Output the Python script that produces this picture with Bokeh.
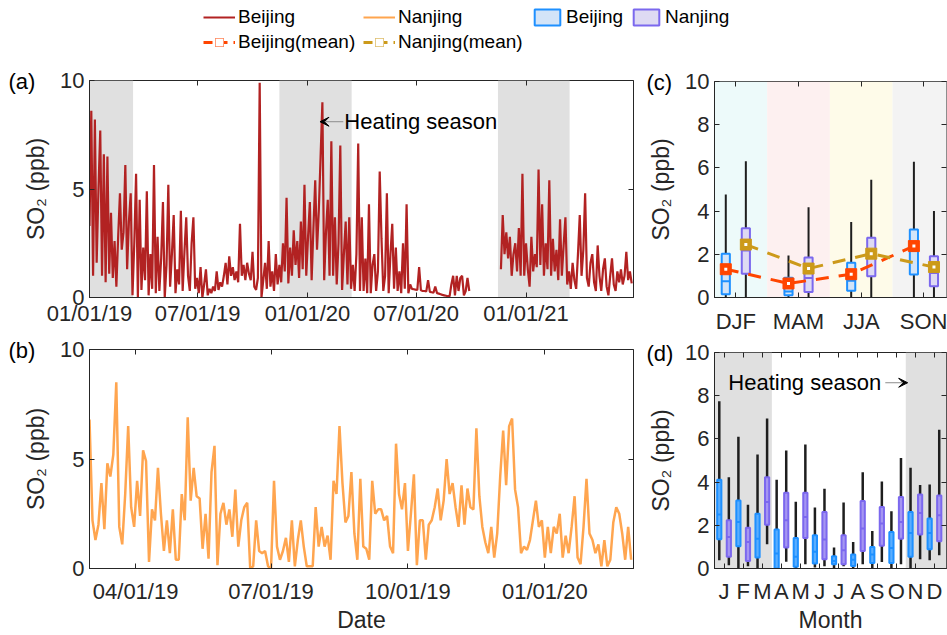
import numpy as np
import pandas as pd
from bokeh.plotting import figure
from bokeh.models import (ColumnDataSource, FixedTicker, DatetimeTickFormatter, Range1d,
                          LinearAxis, DatetimeAxis, Label, Arrow, VeeHead, Legend,
                          LegendItem, BoxAnnotation)
from bokeh.layouts import column, row
from bokeh.embed import file_html
from bokeh.resources import INLINE

FONT = "Liberation Sans"
TXT = "#262626"

# ------------------------------------------------------------------ data
beijing_start_1 = "2019-01-01"
beijing_start_2 = "2020-11-20"
beijing_step_days = 3
beijing_so2_1 = [
    3.3, 8.6, 1.0, 8.2, 1.6, 5.0, 7.7, 1.0, 6.6, 0.7,
    6.5, 1.1, 3.9, 0.9, 2.6, 0.5, 2.8, 4.8, 2.2, 3.0,
    6.1, 1.3, 3.5, 4.8, 0.1, 2.5, 5.7, 0.0, 4.5, 0.35,
    2.3, 0.8, 4.9, 0.1, 2.0, 0.4, 6.1, 0.2, 2.8, 0.3,
    1.8, 4.4, 0.0, 1.5, 5.2, 0.5, 2.0, 3.8, 0.2, 1.3,
    0.6, 4.0, 0.3, 2.1, 3.7, 1.0, 0.3, 2.5, 3.7, 0.4,
    0.9, 0.2, 1.4, 0.0, 0.6, 1.3, 0.1, 0.4, 0.2, 0.5,
    0.3, 1.2, 0.35, 0.7, 0.5, 1.0, 1.6, 0.6, 1.9, 1.0,
    1.4, 0.8, 1.2, 0.7, 3.4, 1.0, 1.5, 0.8, 1.6, 1.1,
    0.8, 2.1, 0.5, 0.35, 0.9, 9.9, 0.0, 0.8, 1.6, 0.4,
    2.6, 0.5, 1.2, 0.3, 2.0, 0.6, 1.5, 0.7, 2.5, 1.2,
    4.6, 0.65, 2.3, 1.0, 3.1, 1.5, 2.6, 0.9, 3.5, 1.3,
    5.2, 1.0, 2.8, 4.4, 0.8, 3.2, 5.4, 2.2, 4.0, 6.5,
    9.0, 0.8, 3.0, 4.5, 1.0, 7.2, 1.0, 3.7, 0.6, 2.5,
    7.0, 0.35, 2.0, 3.5, 0.6, 3.7, 0.4, 1.5, 0.3, 2.0,
    7.1, 0.3, 3.7, 0.3, 1.8, 0.2, 4.3, 0.2, 1.5, 2.0,
    0.3, 1.2, 5.8, 2.7, 0.3, 1.0, 4.8, 0.2, 2.0, 3.4,
    0.4, 2.3, 0.3, 1.2, 0.2, 2.5, 0.4, 4.3, 0.2, 0.6,
    0.4, 0.38, 0.36, 0.35, 1.4, 0.33, 0.3, 0.3, 0.28, 0.8,
    0.26, 0.24, 0.22, 0.5, 0.2, 0.18, 0.15, 0.12, 0.1, 0.08,
    0.06, 0.05, 0.6, 1.0, 0.1, 1.0, 0.3, 0.9, 1.0, 0.1,
    0.3, 0.9, 0.3]
beijing_so2_2 = [
    1.3, 3.8, 2.0, 3.0, 1.8, 2.8, 1.0, 2.0, 2.5, 1.2,
    3.2, 1.0, 5.7, 1.0, 2.5, 1.3, 0.5, 2.8, 1.2, 2.0,
    1.4, 5.9, 1.5, 4.3, 1.0, 2.5, 1.3, 5.4, 1.0, 2.7,
    1.2, 2.2, 0.8, 3.6, 1.0, 2.4, 3.7, 0.6, 1.2, 0.4,
    1.6, 0.8, 0.4, 2.0, 3.8, 1.0, 2.2, 4.8, 0.9, 0.5,
    1.6, 2.0, 0.7, 0.3, 2.4, 1.0, 0.3, 1.3, 1.8, 0.5,
    0.1, 1.0, 1.8, 0.6, 0.3, 1.2, 0.7, 1.3, 0.6, 1.0,
    2.1, 0.8, 1.2, 0.65]

nanjing_start = "2019-03-01"
nanjing_step_days = 2
nanjing_so2 = [
    6.8, 2.2, 1.3, 2.0, 3.9, 1.8, 4.8, 4.2, 5.2, 8.5,
    1.9, 1.1, 3.4, 6.5, 2.8, 1.9, 4.0, 2.4, 5.4, 4.9,
    0.3, 2.7, 2.2, 4.6, 2.5, 0.8, 2.2, 0.7, 2.7, 0.4,
    0.4, 3.4, 2.2, 6.9, 3.1, 4.6, 3.3, 3.2, 0.9, 2.5,
    0.45, 4.4, 5.6, 0.15, 2.5, 3.0, 2.0, 2.7, 1.45, 3.6,
    1.0, 2.2, 2.8, 3.0, 0.0, 0.1, 2.2, 0.8, 0.7, 0.8,
    0.1, 0.0, 4.0, 1.0, 0.4, 0.8, 1.4, 0.3, 2.2, 0.1,
    1.3, 2.2, 1.0, 0.1, 0.1, 0.1, 2.8, 1.0, 1.9, 1.0,
    1.5, 0.4, 4.0, 3.4, 6.5, 3.9, 2.1, 2.4, 4.4, 1.6,
    0.4, 4.1, 1.0, 0.9, 0.4, 4.0, 2.5, 2.7, 2.7, 2.2,
    2.4, 1.0, 0.7, 5.7, 3.4, 2.7, 3.9, 0.8, 2.5, 4.3,
    0.15, 2.2, 2.2, 0.4, 2.0, 2.2, 2.8, 3.65, 2.2, 3.1,
    5.0, 3.4, 3.9, 2.8, 1.9, 3.8, 2.0, 3.65, 2.8, 2.7,
    6.4, 3.3, 1.9, 1.2, 0.7, 1.9, 0.5, 1.6, 4.2, 6.3,
    3.8, 6.5, 6.85, 3.6, 2.8, 0.7, 1.0, 0.85, 1.3, 2.2,
    3.1, 1.9, 2.2, 0.5, 1.9, 0.7, 1.9, 1.6, 2.5, 0.5,
    1.5, 0.7, 1.9, 3.3, 0.5, 0.2, 1.9, 4.1, 1.6, 1.3,
    0.7, 1.1, 0.1, 1.3, 0.1, 0.4, 2.1, 2.8, 2.5, 1.6,
    0.4, 1.9, 0.4]

heating_starts = ["2018-11-15", "2019-11-15", "2020-11-15"]
heating_ends = ["2019-03-15", "2020-03-15", "2021-03-15"]
date_ticks_a = ["2019-01-01", "2019-07-01", "2020-01-01", "2020-07-01", "2021-01-01"]
date_ticks_b = ["2019-04-01", "2019-07-01", "2019-10-01", "2020-01-01"]

seasons = ["DJF", "MAM", "JJA", "SON"]
season_bg = ["#EDFAFA", "#FDF0F0", "#FEFBE9", "#F3F3F3"]
bj_season_q1 = [0.15, 0.10, 0.31, 1.06]
bj_season_med = [0.75, 0.28, 0.78, 2.15]
bj_season_q3 = [2.03, 0.91, 1.61, 3.15]
bj_season_lo = [0.0, 0.0, 0.0, 0.0]
bj_season_hi = [4.77, 1.95, 3.49, 6.29]
bj_season_mean = [1.31, 0.65, 1.08, 2.38]
nj_season_q1 = [1.10, 0.26, 0.98, 0.52]
nj_season_med = [2.18, 0.90, 1.88, 1.14]
nj_season_q3 = [3.21, 1.85, 2.77, 1.91]
nj_season_lo = [0.0, 0.0, 0.0, 0.0]
nj_season_hi = [6.31, 4.18, 5.45, 4.00]
nj_season_mean = [2.45, 1.34, 2.03, 1.41]

months = ["J", "F", "M", "A", "M", "J", "J", "A", "S", "O", "N", "D"]
bj_month_q1 = [1.35, 1.03, 0.51, 0.0, 0.08, 0.23, 0.20, 0.12, 0.26, 0.26, 0.54, 0.89]
bj_month_med = [2.50, 2.15, 1.38, 0.70, 0.54, 0.77, 0.35, 0.40, 0.65, 0.95, 1.64, 1.64]
bj_month_q3 = [4.11, 3.15, 2.54, 1.80, 1.41, 1.54, 0.57, 0.65, 1.00, 1.69, 2.61, 2.31]
bj_month_lo = [0.38, 0.0, 0.0, 0.0, 0.0, 0.05, 0.0, 0.0, 0.0, 0.0, 0.0, 0.38]
bj_month_hi = [7.74, 6.10, 5.28, 4.11, 3.09, 2.82, 0.97, 1.23, 1.74, 2.65, 4.66, 3.89]
nj_month_q1 = [0.54, 0.35, 2.03, 0.97, 1.41, 0.43, 0.20, 0.81, 1.05, 1.38, 1.57, 1.26]
nj_month_med = [1.46, 1.23, 3.08, 2.23, 2.38, 1.34, 0.85, 1.85, 2.08, 2.15, 2.57, 2.46]
nj_month_q3 = [2.23, 1.89, 4.23, 3.51, 3.51, 2.61, 1.54, 3.12, 2.85, 3.31, 3.43, 3.38]
nj_month_lo = [0.15, 0.10, 1.12, 0.31, 0.20, 0.10, 0.10, 0.20, 0.30, 0.20, 0.43, 0.61]
nj_month_hi = [4.23, 2.95, 6.94, 5.46, 5.74, 3.69, 3.05, 4.46, 4.03, 5.12, 3.86, 6.42]

# ------------------------------------------------------------------ styles
BJ_LINE = "#B22222"
NJ_LINE = "#FFA54F"
BJ_BOX = "#1E90FF"
BJ_FILL = "#D3E4F8"
NJ_BOX = "#7B68EE"
NJ_FILL = "#DEDAF3"
BJ_MEAN = "#FF4500"
NJ_MEAN = "#CC9A1A"
HEAT = "#E0E0E0"
WHISK = "#1E1E1E"
YLABEL = "SO\u2082 (ppb)"


def ms(d):
    return pd.Timestamp(d).value / 1e6


def style(p, yticks, tag, tag_offset):
    p.outline_line_color = TXT
    p.outline_line_width = 1
    p.xgrid.visible = False
    p.ygrid.visible = False
    p.background_fill_color = "white"
    p.yaxis.ticker = FixedTicker(ticks=yticks)
    for ax in list(p.xaxis) + list(p.yaxis):
        ax.major_tick_in = 5
        ax.major_tick_out = 0
        ax.minor_tick_line_color = None
        ax.axis_line_color = TXT
        ax.major_tick_line_color = TXT
        ax.major_label_text_font = FONT
        ax.major_label_text_font_size = "22px"
        ax.major_label_text_color = TXT
        ax.axis_label_text_font = FONT
        ax.axis_label_text_font_size = "23px"
        ax.axis_label_text_font_style = "normal"
        ax.axis_label_text_color = TXT
    p.yaxis.major_label_standoff = 5
    p.yaxis.axis_label = YLABEL
    p.yaxis.axis_label_standoff = 8
    # panel tag "(a)" etc. as a left-aligned title pulled down to the frame's top edge
    p.title.text = tag
    p.title.align = "left"
    p.title.offset = tag_offset
    p.title.text_font = FONT
    p.title.text_font_size = "22px"
    p.title.text_font_style = "normal"
    p.title.text_color = "black"
    p.title.vertical_align = "bottom"
    p.title.standoff = -26


def mirror(p, xticks, yticks, dt=False):
    top = DatetimeAxis() if dt else LinearAxis()
    top.ticker = FixedTicker(ticks=xticks)
    right = LinearAxis(ticker=FixedTicker(ticks=yticks))
    for ax in (top, right):
        ax.major_label_text_font_size = "1px"
        ax.major_label_text_color = None
        ax.major_label_standoff = 0
        ax.major_tick_in = 5
        ax.major_tick_out = 0
        ax.minor_tick_line_color = None
        ax.axis_line_color = None
        ax.major_tick_line_color = TXT
    p.add_layout(top, "above")
    p.add_layout(right, "right")


date_fmt = DatetimeTickFormatter(
    milliseconds="%m/%d/%y", seconds="%m/%d/%y", minsec="%m/%d/%y", minutes="%m/%d/%y",
    hourmin="%m/%d/%y", hours="%m/%d/%y", days="%m/%d/%y", months="%m/%d/%y",
    years="%m/%d/%y")

# ------------------------------------------------------------------ (a) Beijing series
xa0, xa1 = ms("2019-01-01"), ms("2021-06-30")
pa = figure(width=645, height=270, x_axis_type="datetime", x_range=Range1d(xa0, xa1),
            y_range=Range1d(0, 10), output_backend="svg", toolbar_location=None,
            min_border_left=89, min_border_right=12, min_border_top=20, min_border_bottom=33)
style(pa, [0, 5, 10], "(a)", -81)
pa.xaxis.ticker = FixedTicker(ticks=[ms(d) for d in date_ticks_a])
pa.xaxis.formatter = date_fmt
pa.xaxis.major_label_standoff = 3
mirror(pa, [ms(d) for d in date_ticks_a], [0, 5, 10], dt=True)
for s, e in zip(heating_starts, heating_ends):
    pa.add_layout(BoxAnnotation(left=ms(s), right=ms(e), fill_color=HEAT, fill_alpha=1,
                                line_color=None, level="underlay"))
src_b1 = ColumnDataSource(dict(
    x=pd.date_range(beijing_start_1, periods=len(beijing_so2_1), freq=f"{beijing_step_days}D"),
    y=beijing_so2_1))
src_b2 = ColumnDataSource(dict(
    x=pd.date_range(beijing_start_2, periods=len(beijing_so2_2), freq=f"{beijing_step_days}D"),
    y=beijing_so2_2))
pa.line("x", "y", source=src_b1, line_color=BJ_LINE, line_width=2.2)
pa.line("x", "y", source=src_b2, line_color=BJ_LINE, line_width=2.2)
pa.add_layout(Arrow(end=VeeHead(size=9, fill_color="black", line_color="black"),
                    x_start=ms("2020-03-01"), y_start=8.1, x_end=ms("2020-01-22"), y_end=8.1,
                    line_color="#8C8C8C", line_width=1))
pa.add_layout(Label(x=ms("2020-03-01"), y=8.1, x_offset=1, text="Heating season",
                    text_font=FONT, text_font_size="22px", text_color="black",
                    text_baseline="middle", text_align="left"))

# ------------------------------------------------------------------ (b) Nanjing series
xb0, xb1 = ms("2019-03-01"), ms("2020-02-29 14:00")
pb = figure(width=645, height=305, x_axis_type="datetime", x_range=Range1d(xb0, xb1),
            y_range=Range1d(0, 10), output_backend="svg", toolbar_location=None,
            min_border_left=89, min_border_right=12, min_border_top=19, min_border_bottom=67)
style(pb, [0, 5, 10], "(b)", -81)
pb.xaxis.ticker = FixedTicker(ticks=[ms(d) for d in date_ticks_b])
pb.xaxis.formatter = date_fmt
pb.xaxis.major_label_standoff = 10
pb.xaxis.axis_label = "Date"
pb.xaxis.axis_label_standoff = 0
mirror(pb, [ms(d) for d in date_ticks_b], [0, 5, 10], dt=True)
src_n = ColumnDataSource(dict(
    x=pd.date_range(nanjing_start, periods=len(nanjing_so2), freq=f"{nanjing_step_days}D"),
    y=nanjing_so2))
pb.line("x", "y", source=src_n, line_color=NJ_LINE, line_width=2.5)


# ------------------------------------------------------------------ box helper
def boxes(p, xs, q1, med, q3, lo, hi, w, fill, line, wlw):
    src = ColumnDataSource(dict(x=xs, q1=q1, med=med, q3=q3, lo=lo, hi=hi,
                                xl=[x - w / 2 for x in xs], xr=[x + w / 2 for x in xs]))
    p.segment(x0="x", y0="lo", x1="x", y1="hi", source=src, line_color=WHISK, line_width=wlw)
    r = p.vbar(x="x", width=w, bottom="q1", top="q3", source=src, fill_color=fill,
               line_color=line, line_width=2)
    p.segment(x0="xl", y0="med", x1="xr", y1="med", source=src, line_color=line, line_width=2)
    return r


# ------------------------------------------------------------------ (c) seasonal
pc = figure(width=302, height=276, x_range=Range1d(0.66, 4.36), y_range=Range1d(0, 10),
            output_backend="svg", toolbar_location=None,
            min_border_left=66, min_border_right=1, min_border_top=21, min_border_bottom=39)
style(pc, [0, 2, 4, 6, 8, 10], "(c)", -68)
sidx = list(range(1, len(seasons) + 1))
pc.xaxis.ticker = FixedTicker(ticks=sidx)
pc.xaxis.major_label_overrides = {i: s for i, s in zip(sidx, seasons)}
pc.xaxis.major_label_standoff = 11
mirror(pc, sidx, [0, 2, 4, 6, 8, 10])
for i, c in zip(sidx, season_bg):
    pc.add_layout(BoxAnnotation(left=i - 0.5, right=i + 0.5, fill_color=c, fill_alpha=1,
                                line_color=None, level="underlay"))
bj_sx = [i - 0.16 for i in sidx]
nj_sx = [i + 0.16 for i in sidx]
boxes(pc, bj_sx, bj_season_q1, bj_season_med, bj_season_q3, bj_season_lo, bj_season_hi,
      0.13, BJ_FILL, BJ_BOX, 2)
boxes(pc, nj_sx, nj_season_q1, nj_season_med, nj_season_q3, nj_season_lo, nj_season_hi,
      0.13, NJ_FILL, NJ_BOX, 2)
for xs, ys, col in ((bj_sx, bj_season_mean, BJ_MEAN), (nj_sx, nj_season_mean, NJ_MEAN)):
    pc.line(xs, ys, line_color=col, line_width=3, line_dash="13 10")
    pc.scatter(xs, ys, marker="square", size=11, fill_color=col, line_color=col)
    pc.scatter(xs, ys, marker="square", size=3, fill_color="white", line_color=None)

# ------------------------------------------------------------------ (d) monthly
pd_ = figure(width=302, height=299, x_range=Range1d(0.5, 12.63), y_range=Range1d(0, 10),
             output_backend="svg", toolbar_location=None,
             min_border_left=66, min_border_right=1, min_border_top=16, min_border_bottom=67)
style(pd_, [0, 2, 4, 6, 8, 10], "(d)", -68)
midx = list(range(1, len(months) + 1))
pd_.xaxis.ticker = FixedTicker(ticks=midx)
pd_.xaxis.major_label_overrides = {i: m for i, m in zip(midx, months)}
pd_.xaxis.major_label_standoff = 10
pd_.xaxis.axis_label = "Month"
pd_.xaxis.axis_label_standoff = 0
mirror(pd_, midx, [0, 2, 4, 6, 8, 10])
pd_.add_layout(BoxAnnotation(right=3.5, fill_color=HEAT, fill_alpha=1, line_color=None,
                             level="underlay"))
pd_.add_layout(BoxAnnotation(left=10.5, fill_color=HEAT, fill_alpha=1, line_color=None,
                             level="underlay"))
boxes(pd_, [m - 0.25 for m in midx], bj_month_q1, bj_month_med, bj_month_q3, bj_month_lo,
      bj_month_hi, 0.22, "#5AAEFF", BJ_BOX, 2.5)
boxes(pd_, [m + 0.25 for m in midx], nj_month_q1, nj_month_med, nj_month_q3, nj_month_lo,
      nj_month_hi, 0.22, "#A596F2", NJ_BOX, 2.5)
pd_.add_layout(Label(x=1.22, y=8.6, text="Heating season", text_font=FONT,
                     text_font_size="22px", text_color="black", text_baseline="middle",
                     text_align="left"))
pd_.add_layout(Arrow(end=VeeHead(size=9, fill_color="black", line_color="black"),
                     x_start=9.43, y_start=8.6, x_end=10.6, y_end=8.6,
                     line_color="#8C8C8C", line_width=1))

# ------------------------------------------------------------------ legend strip
lf = figure(width=947, height=60, x_range=Range1d(0, 1), y_range=Range1d(0, 1),
            output_backend="svg", toolbar_location=None, x_axis_location=None,
            y_axis_location=None, min_border=0)
lf.outline_line_color = None
lf.grid.visible = False
nan = [np.nan]
r_bj = lf.line(nan, nan, line_color=BJ_LINE, line_width=2)
r_nj = lf.line(nan, nan, line_color=NJ_LINE, line_width=2)
r_bjb = lf.vbar(x=nan, top=nan, width=0.1, fill_color=BJ_FILL, line_color=BJ_BOX, line_width=2)
r_njb = lf.vbar(x=nan, top=nan, width=0.1, fill_color=NJ_FILL, line_color=NJ_BOX, line_width=2)
mean_r = {}
for key, col in (("bj", BJ_MEAN), ("nj", NJ_MEAN)):
    mean_r[key] = [
        lf.line(nan, nan, line_color=col, line_width=3, line_dash="9 6"),
        lf.scatter(nan, nan, marker="square", size=10, fill_color=col, line_color=col),
        lf.scatter(nan, nan, marker="square", size=3, fill_color="white", line_color=None),
    ]
# one single-item legend per cell, placed on the reference's 4-column grid
legend_cells = [
    ("Beijing", [r_bj], (203, 32)),
    ("Nanjing", [r_nj], (363, 32)),
    ("Beijing", [r_bjb], (531, 32)),
    ("Nanjing", [r_njb], (630, 32)),
    ("Beijing(mean)", mean_r["bj"], (203, 7)),
    ("Nanjing(mean)", mean_r["nj"], (363, 7)),
]
for label, rends, loc in legend_cells:
    lg = Legend(items=[LegendItem(label=label, renderers=rends)], location=loc,
                orientation="horizontal", label_text_font=FONT, label_text_font_size="19px",
                label_text_color="black", glyph_width=32, glyph_height=20, label_height=20,
                label_standoff=3, spacing=0, padding=0, margin=0, border_line_color=None,
                background_fill_alpha=0)
    lf.add_layout(lg, "center")

layout = column(lf, row(column(pa, pb), column(pc, pd_)))
open("out.html", "w").write(file_html(layout, INLINE))
